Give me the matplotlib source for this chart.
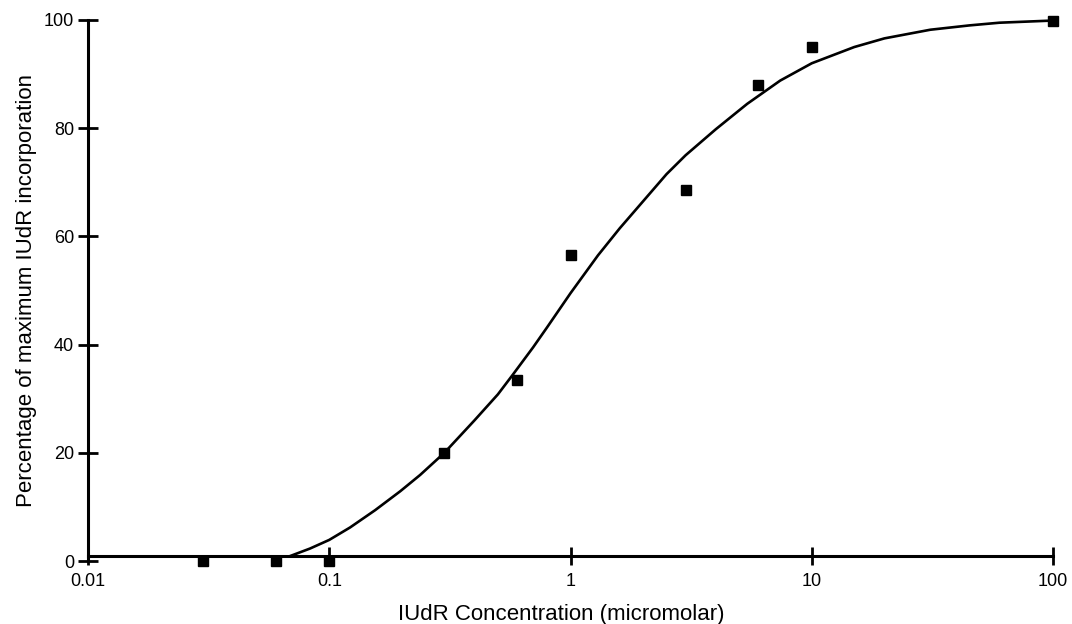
import matplotlib.pyplot as plt
import numpy as np

plt.rcParams['font.family'] = ['Liberation Sans', 'DejaVu Sans']

# measured points (concentration in micromolar, % of maximum incorporation)
conc = [0.03, 0.06, 0.1, 0.3, 0.6, 1, 3, 6, 10, 100]
pct = [0, 0, 0, 20, 33.5, 56.6, 68.6, 88, 95, 99.8]

# fitted curve
curve_x = [0.0687, 0.0832, 0.1, 0.122, 0.155, 0.197, 0.238, 0.3, 0.4, 0.5,
           0.578, 0.7, 0.8, 1.0, 1.3, 1.6, 2.0, 2.5, 3.0, 4.0, 5.4, 7.4,
           10, 15, 20, 31, 45, 60, 100]
curve_y = [0.9, 2.3, 3.9, 6.2, 9.4, 12.9, 15.9, 20, 26, 30.8,
           34.5, 39.5, 43.2, 49.5, 56.5, 61.5, 66.5, 71.5, 75.0, 79.8, 84.5, 88.8,
           92.0, 95.0, 96.6, 98.2, 99.0, 99.5, 99.9]

xticks = [0.01, 0.1, 1, 10, 100]
xticklabels = ['0.01', '0.1', '1', '10', '100']
yticks = [0, 20, 40, 60, 80, 100]

fig = plt.figure(figsize=(10.72, 6.24), dpi=100)
ax = fig.add_axes([88/1072, (624-561)/624, (1053-88)/1072, (561-20)/624])

ax.plot(curve_x, curve_y, color='black', lw=1.9, clip_on=False)
ax.plot(conc, pct, 's', color='black', ms=7.2, clip_on=False, zorder=5)

ax.set_xscale('log')
ax.set_xlim(0.01, 100)
ax.set_ylim(0, 100)

ax.spines['top'].set_visible(False)
ax.spines['right'].set_visible(False)
ax.spines['bottom'].set_position(('data', 0.95))
ax.spines['bottom'].set_linewidth(2.2)
ax.spines['left'].set_linewidth(2.2)

ax.set_xticks(xticks)
ax.set_xticklabels(xticklabels)
ax.xaxis.set_minor_locator(plt.NullLocator())
ax.set_yticks(yticks)

ax.tick_params(axis='x', direction='inout', length=13, width=2, labelsize=13, pad=6)
ax.tick_params(axis='y', direction='inout', length=14, width=2, labelsize=13, pad=3)

ax.set_xlabel('IUdR Concentration (micromolar)', fontsize=16, labelpad=10)
ax.xaxis.label.set_x(0.49)
ax.set_ylabel('Percentage of maximum IUdR incorporation', fontsize=16, labelpad=5)

plt.savefig('out.png', dpi=100)
plt.close(fig)
